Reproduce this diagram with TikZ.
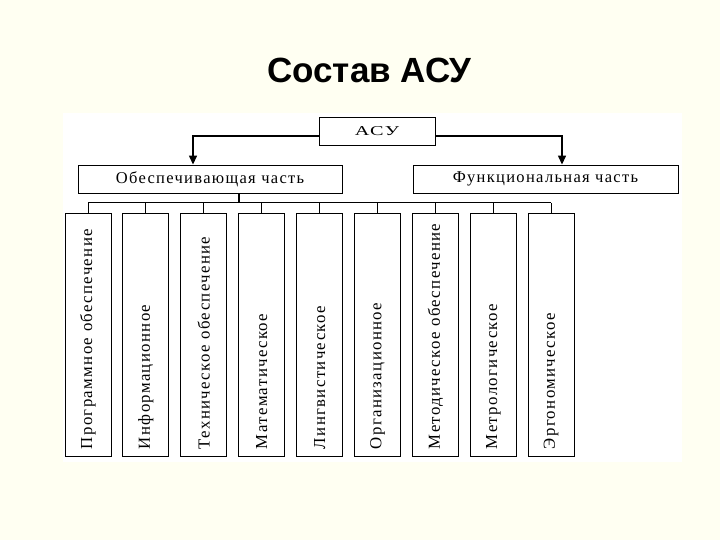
\documentclass[tikz,border=0pt]{standalone}
\usepackage{fontspec}
\usetikzlibrary{arrows.meta}
\newfontfamily\titlefont{Liberation Sans}
\newfontfamily\boxfont[LetterSpace=8]{Liberation Serif}
\newfontfamily\wideboxfont[FakeStretch=1.5,LetterSpace=12]{Liberation Serif}
\definecolor{slidebg}{RGB}{255,255,242}
\begin{document}
\begin{tikzpicture}[x=1pt,y=-1pt,
  hbox/.style={draw=black,line width=0.9pt,fill=white,inner sep=0pt,
    font=\boxfont\fontsize{16.5}{18}\selectfont},
  vbox/.style={draw=black,line width=0.9pt,fill=white,rotate=90,
    minimum height=46pt,text width=229pt,inner xsep=7pt,inner ysep=0pt,align=left,
    font=\boxfont\fontsize{16.8}{18}\selectfont},
  conn/.style={draw=black,line width=1.4pt},
  arr/.style={conn,-{Triangle[width=8pt,length=9pt]}},
  stub/.style={draw=black,line width=1pt}]
\fill[slidebg] (0,0) rectangle (720,540);
\useasboundingbox (0,0) rectangle (720,540);
\fill[white] (63,113) rectangle (682,462);

\node[font=\titlefont\bfseries\fontsize{35}{38}\selectfont] (title) at (369.5,70) {Состав АСУ};

\node[hbox,minimum width=116pt,minimum height=28pt,font=\wideboxfont\fontsize{13.5}{16}\selectfont] (asu) at (377,131.5) {АСУ};
\node[hbox,minimum width=264pt,minimum height=28pt] (obesp) at (210,179) {Обеспечивающая часть};
\node[hbox,minimum width=265pt,minimum height=28pt] (funk) at (545.5,179) {Функциональная часть};

\draw[arr] ([yshift=-4.5pt]asu.west) -| ([xshift=-17pt]obesp.north);
\draw[arr] ([yshift=-4.5pt]asu.east) -| ([xshift=16.5pt]funk.north);

\foreach \i/\t in {1/Программное обеспечение,2/Информационное,3/Техническое обеспечение,
  4/Математическое,5/Лингвистическое,6/Организационное,7/Методическое обеспечение,
  8/Метрологическое,9/Эргономическое}{
  \node[vbox] (b\i) at ({88+57.9*(\i-1)},334.5) {\mbox{\t}};
}
\coordinate (bus) at (239,203);
\draw[conn] (obesp.south -| bus) -- (bus);
\draw[stub] (b1.east |- bus) -- (b9.east |- bus);
\foreach \i in {1,...,9}{
  \draw[stub] (b\i.east |- bus) -- (b\i.east);
}
\end{tikzpicture}
\end{document}
